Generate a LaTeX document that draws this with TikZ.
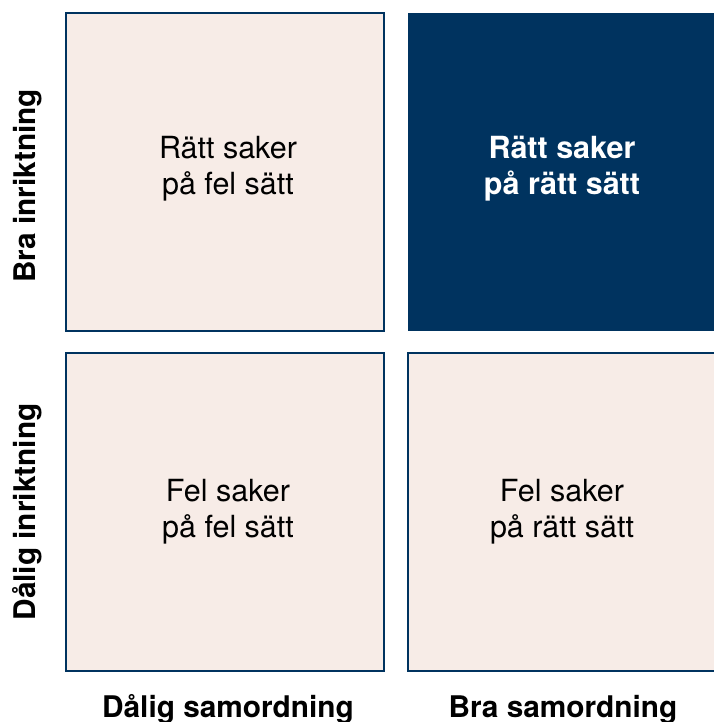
\documentclass[tikz,border=0pt]{standalone}
\usepackage{fontspec}
\setmainfont{TeX Gyre Heros}
\definecolor{beige}{HTML}{F7ECE7}
\definecolor{navy}{HTML}{00335F}
\begin{document}
\begin{tikzpicture}[x=1pt,y=-1pt,
  cell/.style={draw=navy,line width=2.2pt,fill=beige},
  dark/.style={fill=navy},
  celltext/.style={align=center,font=\fontsize{30.5}{36}\selectfont,text=black},
  darktext/.style={align=center,font=\fontsize{30.5}{36}\selectfont\bfseries,text=white},
  axis/.style={font=\fontsize{29.8}{34}\selectfont\bfseries,text=black,inner sep=0pt}]
\useasboundingbox (0,0) rectangle (713,722);
\fill[white] (0,0) rectangle (713,722);
\coordinate (tlA) at (66,13); \coordinate (tlB) at (384,331);
\coordinate (trA) at (408,13); \coordinate (trB) at (720,331);
\coordinate (blA) at (66,353); \coordinate (blB) at (384,671);
\coordinate (brA) at (408,353); \coordinate (brB) at (720,671);
\draw[cell] (tlA) rectangle (tlB);
\fill[dark] (trA) rectangle (trB);
\draw[cell] (blA) rectangle (blB);
\draw[cell] (brA) rectangle (brB);
\node[celltext] (t1) at (228,169) {Rätt saker\\på fel sätt};
\node[darktext] (t2) at (562,169) {Rätt saker\\på rätt sätt};
\node[celltext] (t3) at (228,512) {Fel saker\\på fel sätt};
\node[celltext] (t4) at (562,512) {Fel saker\\på rätt sätt};
\node[axis,anchor=base] (x1) at (228,717) {Dålig samordning};
\node[axis,anchor=base] (x2) at (563,717) {Bra samordning};
\node[axis,anchor=base,rotate=90] (y1) at (35,186) {Bra inriktning};
\node[axis,anchor=base,rotate=90] (y2) at (35,512) {Dålig inriktning};
\end{tikzpicture}
\end{document}
